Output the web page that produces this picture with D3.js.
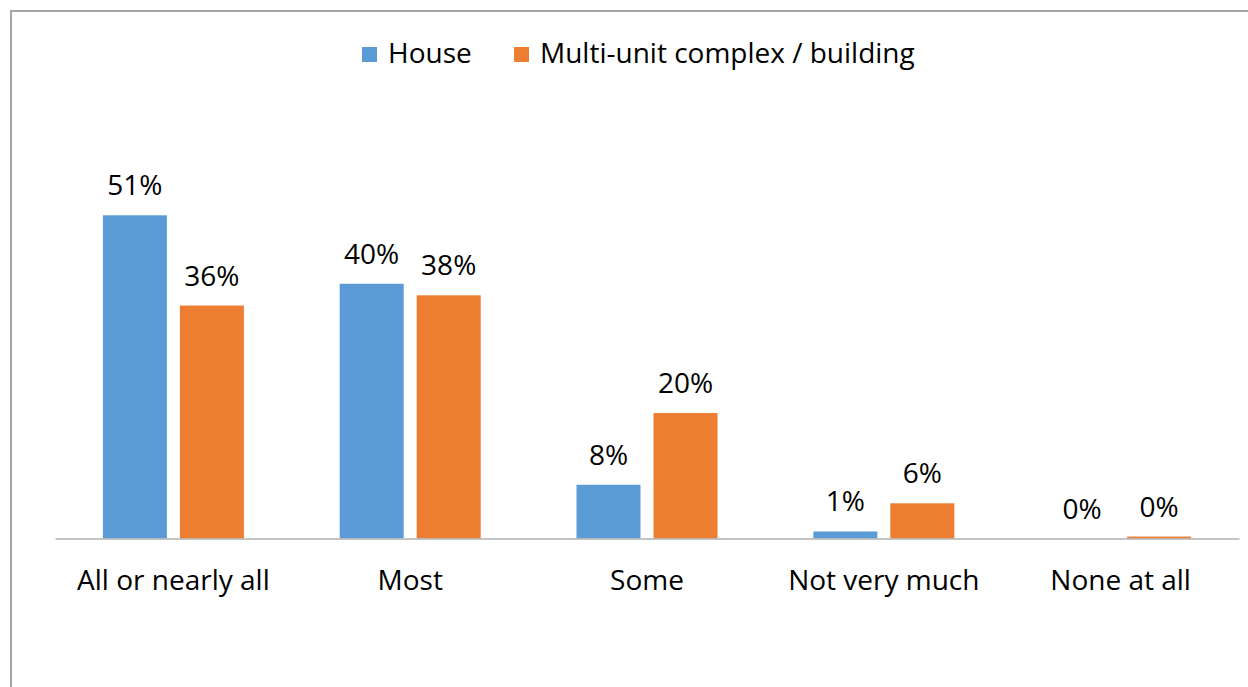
<!DOCTYPE html>
<html>
<head>
<meta charset="utf-8">
<script src="https://cdn.jsdelivr.net/npm/d3@7"></script>
<style>
  body { margin: 0; background: #fff; }
  svg { display: block; font-family: "Open Sans", sans-serif; }
</style>
</head>
<body>
<svg width="1248" height="687"></svg>
<script>
const categories = ["All or nearly all", "Most", "Some", "Not very much", "None at all"];
const seriesNames = ["House", "Multi-unit complex / building"];
const house = [50.5, 39.8, 8.4, 1.1, 0];
const multiUnit = [36.4, 38.0, 19.6, 5.5, 0.3];
const colors = ["#5b9bd5", "#ed7d31"];

const svg = d3.select("svg");
const width = 1248, height = 687;
const plot = {left: 55, right: 1239, top: 154.5, bottom: 538.5};
const fontSize = 28;

// chart frame (only left + top edges visible)
svg.append("rect")
  .attr("x", 11).attr("y", 11)
  .attr("width", 1300).attr("height", 800)
  .attr("fill", "none")
  .attr("stroke", "#a6a6a6")
  .attr("stroke-width", 2);

const x0 = d3.scaleBand()
  .domain(categories)
  .range([plot.left, plot.right])
  .padding(0);

const groupW = 141;
const x1 = d3.scaleBand()
  .domain(seriesNames)
  .range([(x0.bandwidth() - groupW) / 2, (x0.bandwidth() + groupW) / 2])
  .paddingInner(0.169);

const y = d3.scaleLinear()
  .domain([0, 60])
  .range([plot.bottom, plot.top]);

const rows = categories.map((c, i) => ({
  cat: c,
  vals: [
    {s: seriesNames[0], v: house[i], c: colors[0]},
    {s: seriesNames[1], v: multiUnit[i], c: colors[1]}
  ]
}));

const groups = svg.append("g").selectAll("g")
  .data(rows)
  .enter().append("g")
  .attr("transform", d => "translate(" + x0(d.cat) + ",0)");

groups.selectAll("rect")
  .data(d => d.vals)
  .enter().append("rect")
  .attr("x", d => x1(d.s))
  .attr("y", d => y(d.v))
  .attr("width", x1.bandwidth())
  .attr("height", d => y(0) - y(d.v))
  .attr("fill", d => d.c);

groups.selectAll("text")
  .data(d => d.vals)
  .enter().append("text")
  .attr("x", d => x1(d.s) + x1.bandwidth() / 2)
  .attr("y", d => y(d.v) - 20)
  .attr("text-anchor", "middle")
  .attr("font-size", fontSize)
  .attr("fill", "#000")
  .text(d => Math.round(d.v) + "%");

// x axis
const xAxis = svg.append("g")
  .attr("transform", "translate(0," + plot.bottom + ")")
  .call(d3.axisBottom(x0).tickSize(0).tickPadding(0));
xAxis.select(".domain").attr("stroke", "#b0b0b0").attr("stroke-width", 1.5);
xAxis.selectAll("text")
  .attr("dy", 0)
  .attr("y", 51.5)
  .attr("font-size", fontSize)
  .attr("font-family", "Open Sans, sans-serif")
  .attr("fill", "#000");

// legend
const legend = svg.append("g");
const legendItems = [
  {name: seriesNames[0], color: colors[0], x: 362},
  {name: seriesNames[1], color: colors[1], x: 514}
];
legendItems.forEach(d => {
  legend.append("rect")
    .attr("x", d.x).attr("y", 47)
    .attr("width", 15).attr("height", 15)
    .attr("fill", d.color);
  legend.append("text")
    .attr("x", d.x + 26).attr("y", 63)
    .attr("font-size", fontSize)
    .attr("fill", "#000")
    .text(d.name);
});
</script>
</body>
</html>
